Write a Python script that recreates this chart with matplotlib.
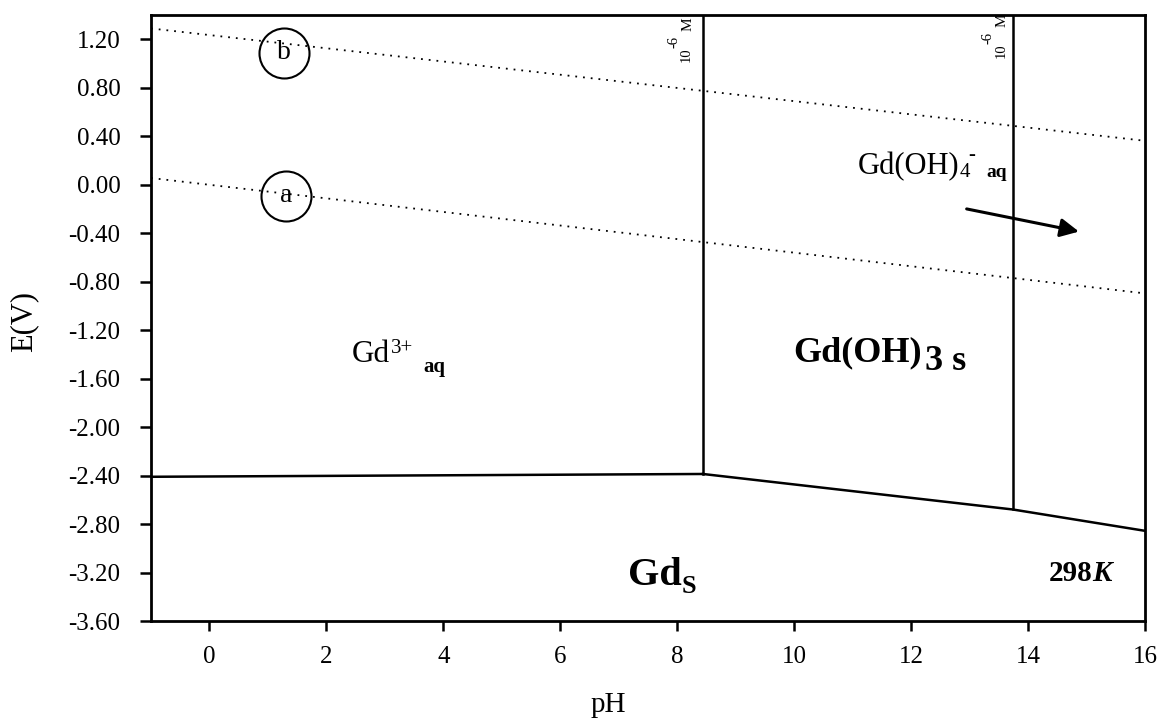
import matplotlib
matplotlib.use("Agg")
import matplotlib.pyplot as plt
from matplotlib.transforms import offset_copy

plt.rcParams["font.family"] = ["Liberation Serif", "DejaVu Serif"]
plt.rcParams["axes.unicode_minus"] = False

# Axis ranges and ticks
PH_MIN, PH_MAX = -1.0, 16.0
E_MIN, E_MAX = -3.60, 1.40
ph_ticks = [0, 2, 4, 6, 8, 10, 12, 14, 16]
e_ticks = [1.20, 0.80, 0.40, 0.00, -0.40, -0.80, -1.20, -1.60, -2.00,
           -2.40, -2.80, -3.20, -3.60]

# Phase boundaries of the Gd-H2O system (pH, E in V)
gd3_gd_ph = [-1.0, 8.44]
gd3_gd_e = [-2.41, -2.387]
hydrox_gd_ph = [8.44, 13.74, 16.0]
hydrox_gd_e = [-2.387, -2.68, -2.856]
gd3_hydrox_ph = 8.44
hydrox_anion_ph = 13.74

# Water stability lines (a: H2/H2O, b: H2O/O2)
line_a_ph = [-1.0, 16.0]
line_a_e = [0.055, -0.897]
line_b_ph = [-1.0, 16.0]
line_b_e = [1.289, 0.362]
marker_names = ["a", "b"]
marker_ph = [1.31, 1.28]
marker_e = [-0.09, 1.09]

# Arrow pointing into the Gd(OH)4- field
arrow_tail = (12.95, -0.20)
arrow_head = (14.87, -0.387)

fig = plt.figure(figsize=(11.69, 7.25), dpi=100)
ax = fig.add_axes([151 / 1169, 1 - 621 / 725, (1145 - 151) / 1169, (621 - 15) / 725])
ax.set_xlim(PH_MIN, PH_MAX)
ax.set_ylim(E_MIN, E_MAX)

lw = 1.8
ax.plot(gd3_gd_ph, gd3_gd_e, color="black", lw=lw)
ax.plot(hydrox_gd_ph, hydrox_gd_e, color="black", lw=lw)
ax.plot([gd3_hydrox_ph, gd3_hydrox_ph], [hydrox_gd_e[0], E_MAX], color="black", lw=lw)
ax.plot([hydrox_anion_ph, hydrox_anion_ph], [hydrox_gd_e[1], E_MAX], color="black", lw=lw)

dots = (0, (1, 3.3))
ax.plot(line_a_ph, line_a_e, color="black", lw=1.3, linestyle=dots)
ax.plot(line_b_ph, line_b_e, color="black", lw=1.3, linestyle=dots)

ax.plot(marker_ph, marker_e, linestyle="none", marker="o", ms=36,
        mfc="none", mec="black", mew=1.5)
for name, x, y in zip(marker_names, marker_ph, marker_e):
    ax.text(x, y, name, fontsize=20, ha="center", va="center")

ax.annotate("", xy=arrow_head, xytext=arrow_tail,
            arrowprops=dict(arrowstyle="-|>", lw=2.2, color="black",
                            mutation_scale=28, shrinkA=0, shrinkB=0))


def label(x, y, parts, ha="left", va="baseline", rotation=0):
    """Place a run of text pieces relative to data point (x, y)."""
    for text, dx, dy, size, kw in parts:
        tr = offset_copy(ax.transData, fig=fig, x=dx, y=dy, units="dots")
        ax.text(x, y, text, transform=tr, fontsize=size, ha=ha, va=va,
                rotation=rotation, **kw)


# Gd3+ aq
label(2.43, -1.463, [
    ("Gd", 0, 0, 22.5, {}),
    ("3+", 39, 9, 15, {}),
    ("aq", 72, -10, 15, {"fontweight": "bold"}),
])
# Gd(OH)4- aq
label(11.09, 0.087, [
    ("Gd(OH)", 0, 0, 22, {}),
    ("4", 102, -3, 15, {}),
    ("-", 110, 14, 15, {}),
    ("aq", 128, -3, 14, {"fontweight": "bold"}),
])
# Gd(OH)3 s
label(9.99, -1.46, [
    ("Gd(OH)", 0, 0, 26, {"fontweight": "bold"}),
    ("3 s", 131, -8, 26, {"fontweight": "bold"}),
])
# Gd s
label(7.16, -3.305, [
    ("Gd", 0, 0, 29, {"fontweight": "bold"}),
    ("S", 54, -8, 19, {"fontweight": "bold"}),
])
# Temperature
label(14.35, -3.27, [
    ("298", 0, 0, 21, {"fontweight": "bold"}),
    ("K", 44, 0, 21, {"fontweight": "bold", "fontstyle": "italic"}),
])

# Concentration labels (10^-6 M) running up the vertical boundaries
label(gd3_hydrox_ph, E_MAX, [
    ("10", -10, -47, 10.5, {}),
    ("-6", -22, -33, 10.5, {}),
    ("M", -8, -16, 11, {}),
], ha="right", va="bottom", rotation=90)
label(hydrox_anion_ph, E_MAX, [
    ("10", -5, -43, 10.5, {}),
    ("-6", -18, -29, 10.5, {}),
    ("M", -4, -12, 11, {}),
], ha="right", va="bottom", rotation=90)

ax.set_xticks(ph_ticks)
ax.set_xticklabels([str(t) for t in ph_ticks])
ax.set_yticks(e_ticks)
ax.set_yticklabels([f"{t:.2f}" for t in e_ticks])
ax.tick_params(axis="x", direction="out", length=7, width=1.8, pad=11, labelsize=18)
ax.tick_params(axis="y", direction="out", length=8, width=1.8, pad=14, labelsize=18)
for s in ax.spines.values():
    s.set_linewidth(2)

fig.text(24 / 1169, 1 - 321 / 725, "E(V)", rotation=90, ha="center", va="center", fontsize=22)
fig.text(608 / 1169, 1 - 705 / 725, "pH", ha="center", va="center", fontsize=21)

fig.savefig("out.png", dpi=100, facecolor="white")
